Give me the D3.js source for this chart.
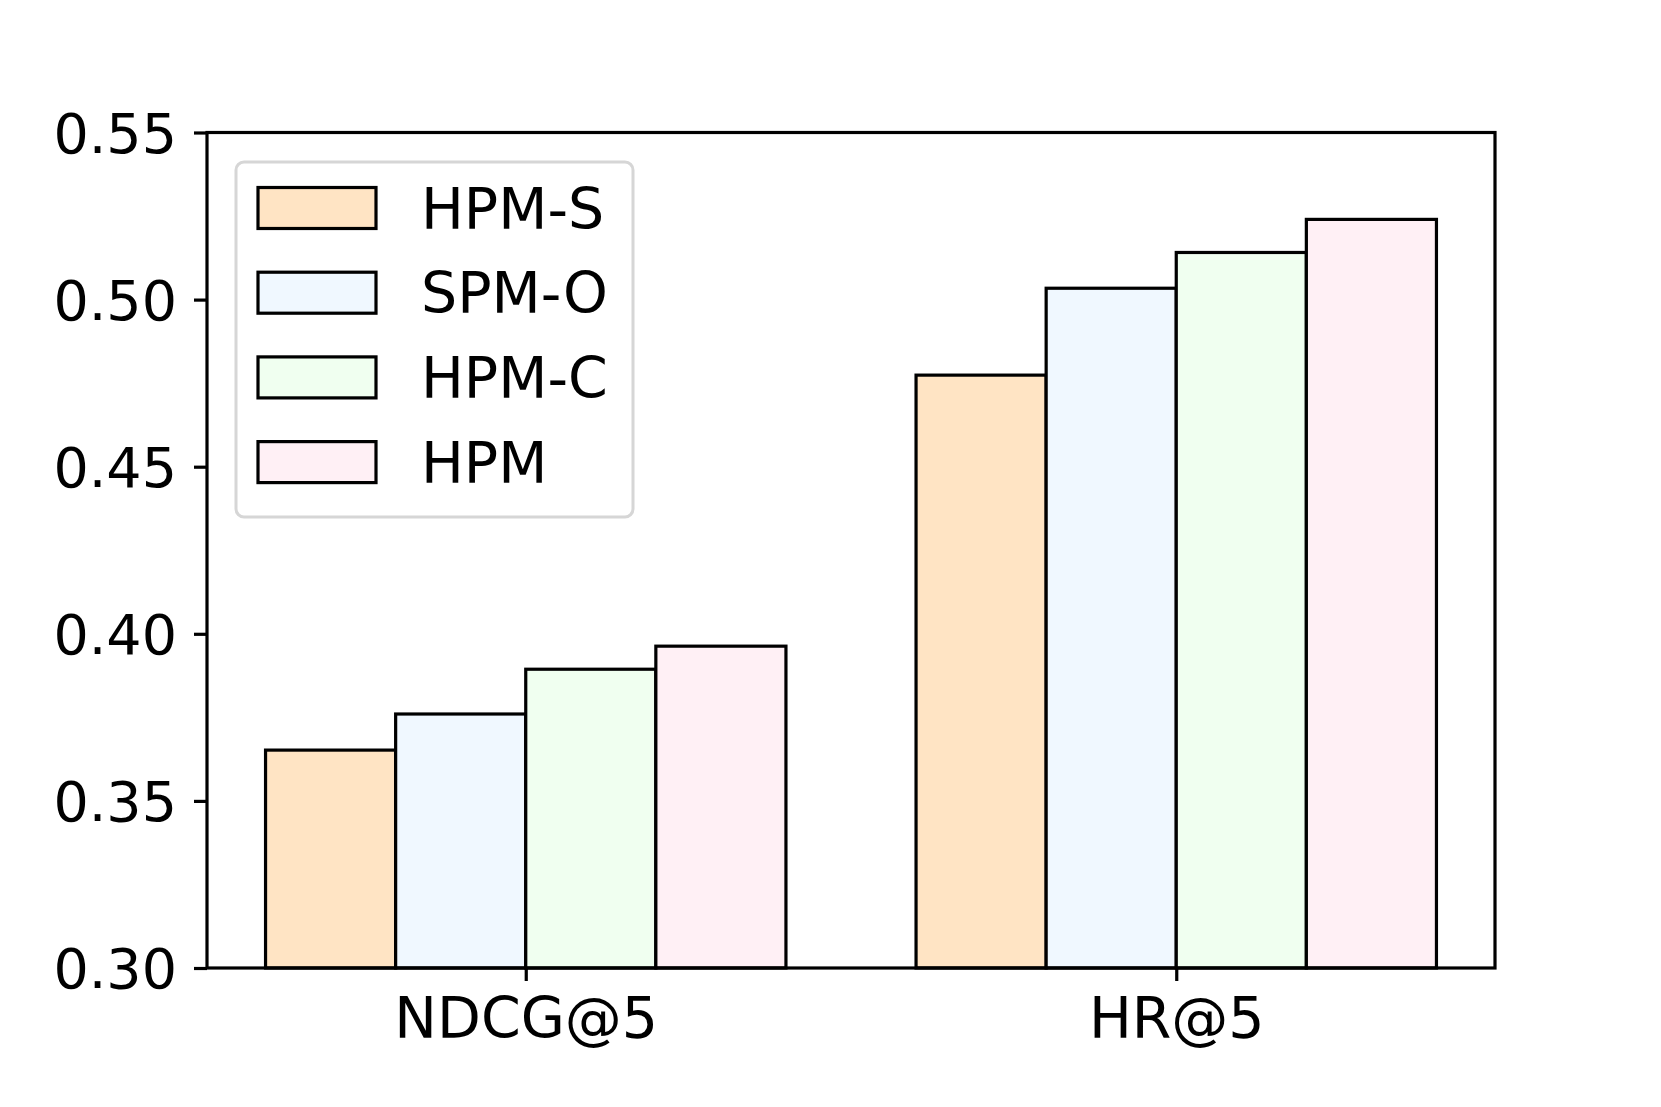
<!DOCTYPE html>
<html>
<head>
<meta charset="utf-8">
<script src="https://cdn.jsdelivr.net/npm/d3@7"></script>
<style>
  html, body { margin: 0; padding: 0; background: #ffffff; }
  svg { display: block; }
  text { font-family: "DejaVu Sans", sans-serif; fill: #000; }
</style>
</head>
<body>
<script>
// ---- data ----
const categories = ["NDCG@5", "HR@5"];
const seriesNames = ["HPM-S", "SPM-O", "HPM-C", "HPM"];
const seriesColors = ["#FFE4C4", "#F0F8FF", "#F0FFF0", "#FFF0F5"];
const valuesHPMS = [0.3652, 0.4774];
const valuesSPMO = [0.3760, 0.5034];
const valuesHPMC = [0.3894, 0.5141];
const valuesHPM  = [0.3963, 0.5240];
const yTicks = [0.30, 0.35, 0.40, 0.45, 0.50, 0.55];

const seriesValues = [valuesHPMS, valuesSPMO, valuesHPMC, valuesHPM];

// ---- layout ----
const W = 1661, H = 1107;
const plot = { left: 207, right: 1495, top: 132.5, bottom: 968 };
const fontSize = 57;
const yFontSize = 55.5;
const lw = 3.2;

const svg = d3.select("body").append("svg")
  .attr("width", W).attr("height", H);

const x = d3.scaleLinear().domain([-0.49, 1.49]).range([plot.left, plot.right]);
const y = d3.scaleLinear().domain([0.30, 0.55]).range([plot.bottom, plot.top]);
const barW = 0.2;
const offsets = [-0.3, -0.1, 0.1, 0.3];

// bars
seriesValues.forEach((vals, si) => {
  svg.append("g").selectAll("rect")
    .data(vals)
    .join("rect")
    .attr("x", (d, i) => x(i + offsets[si] - barW / 2))
    .attr("width", x(barW) - x(0))
    .attr("y", d => y(d))
    .attr("height", d => y(0.30) - y(d))
    .attr("fill", seriesColors[si])
    .attr("stroke", "#000")
    .attr("stroke-width", lw);
});

// axes
const yAxis = d3.axisLeft(y).tickValues(yTicks).tickFormat(d3.format(".2f"))
  .tickSize(13).tickPadding(17);
const gy = svg.append("g").attr("transform", `translate(${plot.left},0)`).call(yAxis);
gy.select(".domain").remove();
gy.selectAll(".tick line").attr("stroke", "#000").attr("stroke-width", lw);
gy.selectAll(".tick text").attr("font-size", yFontSize).attr("font-family", "DejaVu Sans")
  .attr("dy", "0.36em").attr("fill", "#000");

const xAxis = d3.axisBottom(x).tickValues([0, 1]).tickFormat((d) => categories[d])
  .tickSize(13).tickPadding(16);
const gx = svg.append("g").attr("transform", `translate(0,${plot.bottom})`).call(xAxis);
gx.select(".domain").remove();
gx.selectAll(".tick line").attr("stroke", "#000").attr("stroke-width", lw);
gx.selectAll(".tick text").attr("font-size", fontSize).attr("font-family", "DejaVu Sans")
  .attr("dy", "0.72em").attr("fill", "#000");

// spines
svg.append("rect")
  .attr("x", plot.left).attr("y", plot.top)
  .attr("width", plot.right - plot.left).attr("height", plot.bottom - plot.top)
  .attr("fill", "none").attr("stroke", "#000").attr("stroke-width", lw);

// legend
const legend = svg.append("g");
legend.append("rect")
  .attr("x", 236).attr("y", 162).attr("width", 397).attr("height", 355)
  .attr("rx", 8).attr("ry", 8)
  .attr("fill", "#fff").attr("fill-opacity", 0.8)
  .attr("stroke", "#d6d6d6").attr("stroke-width", 3);
const rowY0 = 208, rowStep = 84.7;
seriesNames.forEach((name, i) => {
  const cy = rowY0 + i * rowStep;
  legend.append("rect")
    .attr("x", 258).attr("y", cy - 20.5).attr("width", 118).attr("height", 41)
    .attr("fill", seriesColors[i]).attr("stroke", "#000").attr("stroke-width", lw);
  legend.append("text")
    .attr("x", 421).attr("y", cy).attr("dy", "0.36em")
    .attr("font-size", fontSize).text(name);
});
</script>
</body>
</html>
